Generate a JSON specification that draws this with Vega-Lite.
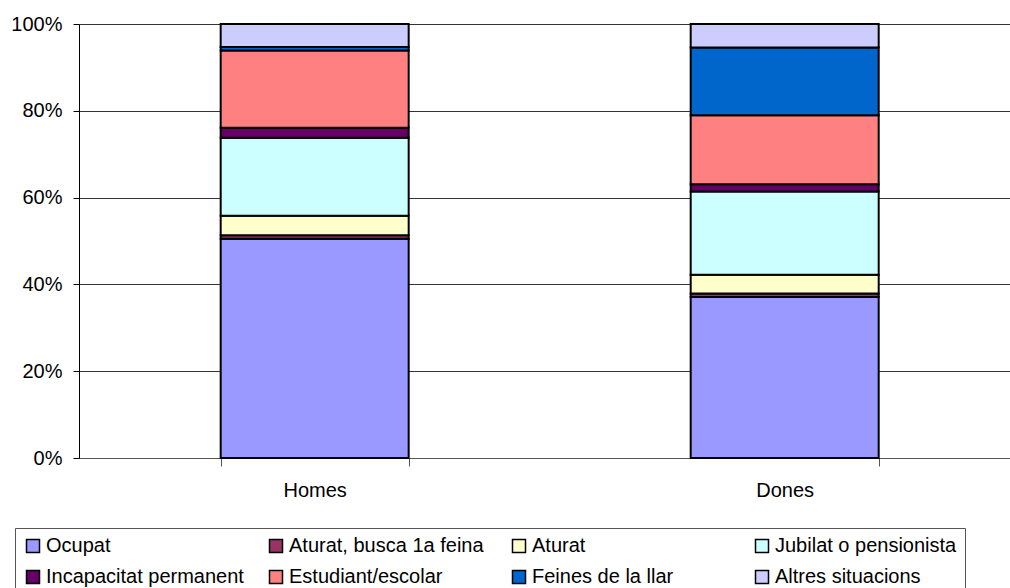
{
  "$schema": "https://vega.github.io/schema/vega-lite/v6.json",
  "autosize": "none",
  "padding": {"left": 79, "top": 24, "right": 0, "bottom": 130},
  "width": 931,
  "height": 434,
  "background": "white",
  "config": {
    "font": "Liberation Sans",
    "view": {"stroke": null}
  },
  "data": {
    "values": [
      {"sexe": "Homes", "situacio": "Ocupat", "ordre": 1, "valor": 50.5},
      {"sexe": "Homes", "situacio": "Aturat, busca 1a feina", "ordre": 2, "valor": 0.8},
      {"sexe": "Homes", "situacio": "Aturat", "ordre": 3, "valor": 4.5},
      {"sexe": "Homes", "situacio": "Jubilat o pensionista", "ordre": 4, "valor": 18.0},
      {"sexe": "Homes", "situacio": "Incapacitat permanent", "ordre": 5, "valor": 2.3},
      {"sexe": "Homes", "situacio": "Estudiant/escolar", "ordre": 6, "valor": 17.8},
      {"sexe": "Homes", "situacio": "Feines de la llar", "ordre": 7, "valor": 0.8},
      {"sexe": "Homes", "situacio": "Altres situacions", "ordre": 8, "valor": 5.3},
      {"sexe": "Dones", "situacio": "Ocupat", "ordre": 1, "valor": 37.1},
      {"sexe": "Dones", "situacio": "Aturat, busca 1a feina", "ordre": 2, "valor": 0.8},
      {"sexe": "Dones", "situacio": "Aturat", "ordre": 3, "valor": 4.3},
      {"sexe": "Dones", "situacio": "Jubilat o pensionista", "ordre": 4, "valor": 19.2},
      {"sexe": "Dones", "situacio": "Incapacitat permanent", "ordre": 5, "valor": 1.7},
      {"sexe": "Dones", "situacio": "Estudiant/escolar", "ordre": 6, "valor": 15.9},
      {"sexe": "Dones", "situacio": "Feines de la llar", "ordre": 7, "valor": 15.6},
      {"sexe": "Dones", "situacio": "Altres situacions", "ordre": 8, "valor": 5.4}
    ]
  },
  "mark": {"type": "bar", "stroke": "#000000", "strokeWidth": 2},
  "encoding": {
    "x": {
      "field": "sexe",
      "type": "nominal",
      "sort": ["Homes", "Dones"],
      "scale": {"paddingInner": 0.6, "paddingOuter": 0.2904, "align": 0.519},
      "axis": {
        "title": null,
        "labelAngle": 0,
        "labelFontSize": 20,
        "labelColor": "#000000",
        "labelPadding": 14,
        "tickBand": "extent",
        "tickSize": 8,
        "tickColor": "#555555",
        "domainColor": "#555555",
        "grid": false
      }
    },
    "y": {
      "field": "valor",
      "type": "quantitative",
      "stack": "zero",
      "scale": {"domain": [0, 100], "nice": false},
      "axis": {
        "title": null,
        "values": [0, 20, 40, 60, 80, 100],
        "labelExpr": "datum.value + '%'",
        "labelFontSize": 20,
        "labelColor": "#000000",
        "labelPadding": 11,
        "tickSize": 6,
        "tickColor": "#000000",
        "domainColor": "#000000",
        "grid": true,
        "gridColor": "#333333",
        "gridWidth": 1
      }
    },
    "order": {"field": "ordre", "type": "quantitative", "sort": "ascending"},
    "color": {
      "field": "situacio",
      "type": "nominal",
      "scale": {
        "domain": ["Ocupat", "Aturat, busca 1a feina", "Aturat", "Jubilat o pensionista", "Incapacitat permanent", "Estudiant/escolar", "Feines de la llar", "Altres situacions"],
        "range": ["#9999FF", "#993366", "#FFFFCC", "#CCFFFF", "#660066", "#FF8080", "#0066CC", "#CCCCFF"]
      },
      "legend": {
        "title": null,
        "orient": "none",
        "legendX": -64,
        "legendY": 504,
        "direction": "horizontal",
        "columns": 4,
        "gridAlign": "all",
        "columnPadding": 22,
        "rowPadding": 11,
        "padding": 8,
        "strokeColor": "#555555",
        "fillColor": "#FFFFFF",
        "symbolType": "square",
        "symbolSize": 169,
        "symbolStrokeColor": "#000000",
        "symbolStrokeWidth": 1.5,
        "symbolOpacity": 1,
        "labelFontSize": 20,
        "labelColor": "#000000",
        "labelOffset": 3,
        "labelLimit": 400
      }
    }
  }
}
